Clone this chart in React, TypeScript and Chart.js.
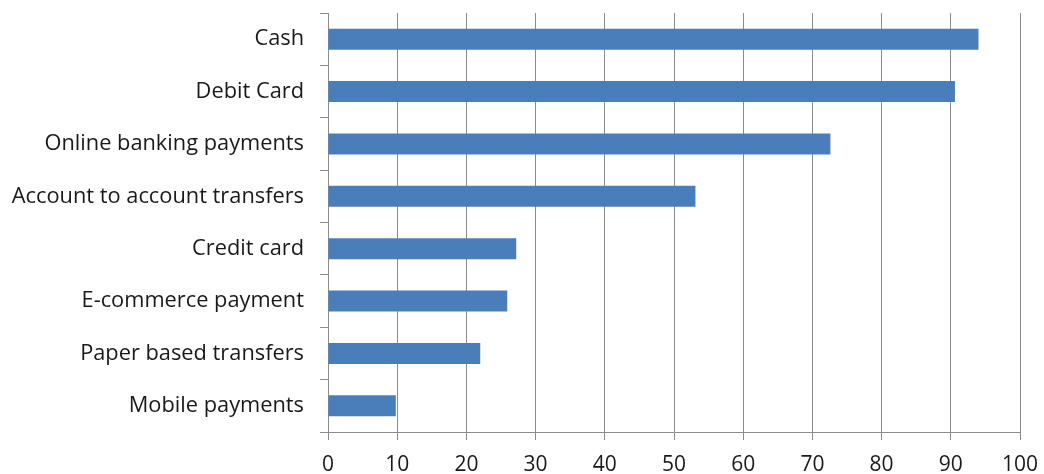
import React, { useEffect, useRef } from "react";
import { Chart, registerables } from "chart.js";

Chart.register(...registerables);

const categories: string[] = [
  "Cash",
  "Debit Card",
  "Online banking payments",
  "Account to account transfers",
  "Credit card",
  "E-commerce payment",
  "Paper based transfers",
  "Mobile payments",
];

const values: number[] = [94, 90.6, 72.6, 53.1, 27.2, 25.9, 22, 9.8];

const xTicks: number[] = [0, 10, 20, 30, 40, 50, 60, 70, 80, 90, 100];

const FONT = "'Open Sans', sans-serif";

export default function App() {
  const ref = useRef<HTMLCanvasElement | null>(null);

  useEffect(() => {
    if (!ref.current) return;
    const chart = new Chart(ref.current, {
      type: "bar",
      data: {
        labels: categories,
        datasets: [
          {
            data: values,
            backgroundColor: "#4a7ebb",
            borderWidth: 0,
            barPercentage: 0.4,
            categoryPercentage: 1,
          },
        ],
      },
      options: {
        indexAxis: "y",
        responsive: false,
        animation: false,
        layout: { padding: { top: 13, right: 24, bottom: 0, left: 0 } },
        plugins: {
          legend: { display: false },
          tooltip: { enabled: false },
        },
        scales: {
          x: {
            min: 0,
            max: 100,
            afterBuildTicks: (scale: any) => {
              scale.ticks = xTicks.map((v) => ({ value: v }));
            },
            afterFit: (scale: any) => {
              scale.height = 42;
              scale.paddingLeft = 0;
              scale.paddingRight = 0;
            },
            grid: {
              color: "#8c8c8c",
              lineWidth: 1,
              tickLength: 8,
              drawTicks: true,
            },
            border: { display: true, color: "#8c8c8c" },
            ticks: {
              color: "#1a1a1a",
              font: { family: FONT, size: 21 },
              padding: 12,
              maxRotation: 0,
            },
          },
          y: {
            afterFit: (scale: any) => {
              scale.width = 328;
              scale.paddingTop = 0;
              scale.paddingBottom = 0;
            },
            grid: {
              offset: true,
              drawOnChartArea: false,
              drawTicks: true,
              tickLength: 8,
              color: "#8c8c8c",
            },
            border: { display: true, color: "#8c8c8c" },
            ticks: {
              color: "#1a1a1a",
              font: { family: FONT, size: 21.8 },
              padding: 16,
            },
          },
        },
      },
    });
    return () => chart.destroy();
  }, []);

  return (
    <div style={{ position: "fixed", left: 0, top: 0, width: 1044, height: 474, background: "#fff" }}>
      <canvas ref={ref} width={1044} height={474} style={{ display: "block" }} />
    </div>
  );
}
